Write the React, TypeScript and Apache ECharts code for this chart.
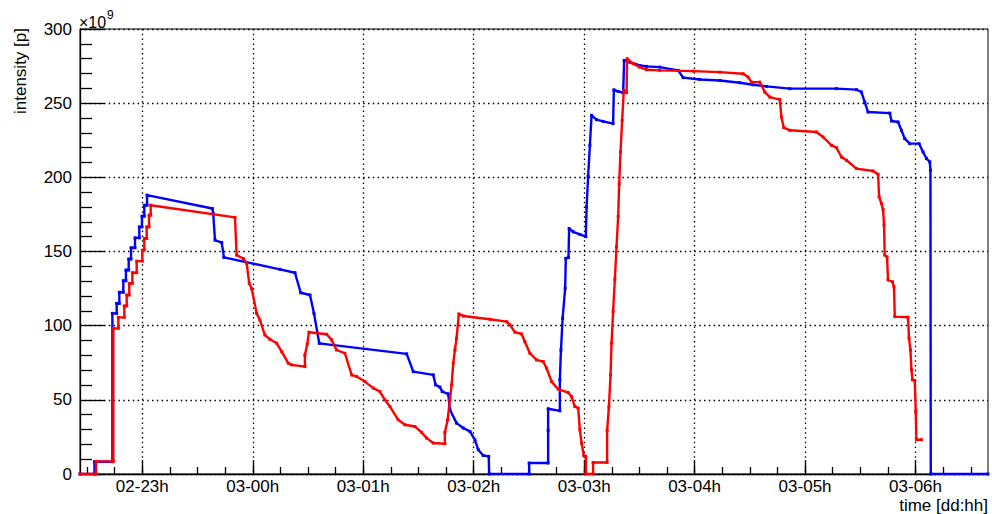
import React, { useEffect, useRef } from 'react';
import * as echarts from 'echarts';

const FONT = "'Liberation Sans', Arial, Helvetica, sans-serif";

// x values: hours relative to 03-00h
const xMin = -1.564;
const xMax = 6.656;
const hourTicks = [-1, 0, 1, 2, 3, 4, 5, 6];
const hourLabels = ['02-23h', '03-00h', '03-01h', '03-02h', '03-03h', '03-04h', '03-05h', '03-06h'];

const blueHours = [
  -1.564, -1.433, -1.433, -1.271, -1.271, -1.232, -1.232, -1.208, -1.208, -1.172, -1.172, -1.148, -1.148,
  -1.123, -1.123, -1.102, -1.102, -1.066, -1.066, -1.027, -1.027, -1.003, -1.003, -0.982, -0.982, -0.957,
  -0.957, -0.366, -0.358, -0.342, -0.281, -0.261, 0.246, 0.382, 0.434, 0.518, 0.554, 0.602, 1.393, 1.453,
  1.634, 1.655, 1.694, 1.715, 1.769, 1.785, 1.845, 1.905, 1.966, 2.011, 2.041, 2.086, 2.136, 2.14, 2.502,
  2.502, 2.674, 2.674, 2.674, 2.78, 2.78, 2.79, 2.805, 2.828, 2.834, 2.858, 2.864, 2.901, 2.961, 3.015,
  3.022, 3.036, 3.052, 3.067, 3.112, 3.172, 3.262, 3.269, 3.308, 3.353, 3.362, 3.414, 3.504, 3.565, 3.685,
  3.851, 3.896, 4.047, 4.228, 4.409, 4.529, 4.651, 4.862, 5.284, 5.465, 5.51, 5.54, 5.57, 5.767, 5.782,
  5.842, 5.872, 5.902, 5.948, 6.032, 6.068, 6.099, 6.129, 6.135, 6.138, 6.656,
];
const blueIntensity = [
  0, 0, 8.3, 8.3, 108.3, 108.3, 115, 115, 122.5, 122.5, 130.3, 130.3, 137.5,
  137.5, 144.9, 144.9, 152.5, 152.5, 159.2, 159.2, 166.6, 166.6, 173.8, 173.8, 181.2, 181.2,
  188, 179, 175.6, 157.7, 156, 146, 138, 135.7, 122.2, 120.7, 108.3, 88.1, 81, 69,
  66.8, 60.1, 58.6, 55.6, 54, 43.3, 34.3, 31, 28.7, 23, 16.4, 12.5, 11.9, 0, 0,
  7.4, 7.4, 29.4, 44, 42.6, 63.5, 83.6, 105, 125.2, 145.4, 146, 165.5, 163.3, 161.5, 160,
  180, 200.7, 221.6, 241.8, 238.9, 237.7, 236.2, 259, 257.9, 257, 278.8, 277.6, 275.4, 274.8, 274.3,
  272.1, 267.2, 266, 265.3, 263.8, 262.4, 261.3, 259.8, 259.8, 259.1, 257.5, 250.7, 244, 243.3, 238,
  237.3, 231.7, 226.1, 222.7, 222.7, 217.1, 212.7, 210.4, 204.8, 0, 0,
];

const redHours = [
  -1.564, -1.419, -1.419, -1.262, -1.262, -1.217, -1.217, -1.163, -1.163, -1.141, -1.141, -1.118, -1.118,
  -1.09, -1.09, -1.051, -1.051, -1.0, -1.0, -0.982, -0.982, -0.96, -0.96, -0.939, -0.939, -0.924, -0.924,
  -0.161, -0.146, -0.086, -0.055, -0.032, -0.01, 0.035, 0.065, 0.11, 0.156, 0.216, 0.262, 0.321, 0.352,
  0.472, 0.472, 0.493, 0.509, 0.669, 0.714, 0.759, 0.834, 0.895, 0.94, 1.015, 1.091, 1.151, 1.196, 1.242,
  1.317, 1.377, 1.468, 1.529, 1.574, 1.634, 1.739, 1.739, 1.764, 1.785, 1.8, 1.815, 1.83, 1.845, 1.866,
  1.905, 2.147, 2.298, 2.328, 2.373, 2.434, 2.463, 2.509, 2.569, 2.629, 2.66, 2.705, 2.765, 2.855, 2.886,
  2.916, 2.946, 2.961, 2.977, 2.997, 3.015, 3.015, 3.081, 3.081, 3.208, 3.208, 3.224, 3.239, 3.248, 3.262,
  3.278, 3.293, 3.308, 3.317, 3.329, 3.344, 3.359, 3.384, 3.389, 3.443, 3.504, 3.565, 3.685, 3.986, 4.228,
  4.439, 4.484, 4.515, 4.59, 4.635, 4.681, 4.771, 4.786, 4.807, 4.862, 5.103, 5.163, 5.239, 5.284, 5.329,
  5.375, 5.465, 5.615, 5.661, 5.67, 5.691, 5.706, 5.715, 5.721, 5.742, 5.751, 5.791, 5.805, 5.812, 5.932,
  5.941, 5.954, 5.963, 5.972, 5.993, 6.002, 6.008, 6.053,
];
const redIntensity = [
  0, 0, 8.5, 8.5, 98.2, 98.2, 105.6, 105.6, 113.3, 113.3, 120.7, 120.7, 128.5,
  128.5, 135.7, 135.7, 143.5, 143.5, 150.9, 150.9, 158.8, 158.8, 166.6, 166.6, 174.5, 174.5, 181.2,
  173, 147.6, 145.3, 142, 128.5, 125, 108.3, 103.8, 93.7, 90.8, 88.2, 82.5, 74.7, 73.6,
  72.4, 80.3, 87.5, 95.6, 94.2, 90.4, 83.6, 81.4, 66.8, 65.7, 62.3, 57.9, 55.6, 50, 45.5,
  36.5, 33.2, 32, 28, 24.2, 20.9, 20.4, 28, 36.5, 50, 60.1, 74.7, 83.6, 91.5, 107.9,
  106.5, 104.3, 102.7, 100.5, 95.6, 94.4, 89.2, 81.4, 76.9, 75.8, 71.3, 62.3, 57.2, 54.9, 52.2,
  45.5, 44.4, 29.8, 20.9, 12.3, 11.8, 0, 0, 7.8, 7.8, 29.4, 45.1, 66.8, 88.2, 109.4,
  131.2, 153.2, 173.8, 195.4, 217.1, 238.4, 258.6, 257.1, 280, 276.6, 274.3, 272.5, 272.1, 271.6, 270.9,
  269.8, 267.6, 264.2, 264.2, 257.5, 254.1, 252.4, 240.6, 233.5, 231.7, 230.6, 227.2, 221.6, 220, 213.7,
  211.5, 205.9, 204.3, 202.1, 186.8, 182.4, 178.3, 167.8, 147.6, 146.4, 130.8, 129.6, 126.2, 106.1, 105.7,
  91.5, 83.6, 70.2, 63.5, 63, 42.1, 23.1, 23.1,
];

function zip(xs: number[], ys: number[]): [number, number][] {
  return xs.map((x, i) => [x, ys[i]]);
}

function quarterTicks(): number[] {
  const out: number[] = [];
  for (let q = Math.ceil(xMin * 4); q <= Math.floor(xMax * 4); q++) out.push(q / 4);
  return out;
}

export default function App() {
  const ref = useRef<HTMLDivElement>(null);
  useEffect(() => {
    if (!ref.current) return;
    const chart = echarts.init(ref.current, null, { renderer: 'svg' });
    const black = '#000000';
    const dotted = { color: black, width: 1.3, type: [1.5, 3.3] as number[] };
    const tickStyle = { color: black, width: 1.3 };
    chart.setOption({
      animation: false,
      backgroundColor: '#ffffff',
      grid: { left: 80, right: 4, top: 29, bottom: 40, show: true, borderColor: black, borderWidth: 1, backgroundColor: 'transparent' },
      xAxis: [
        {
          type: 'value',
          min: xMin,
          max: xMax,
          position: 'bottom',
          axisLine: { show: true, onZero: false, lineStyle: { color: black, width: 1.3 } },
          axisTick: { show: true, inside: true, length: 14, customValues: hourTicks, lineStyle: tickStyle },
          axisLabel: {
            show: true,
            customValues: hourTicks,
            color: black,
            fontSize: 17,
            fontFamily: FONT,
            margin: 4,
            formatter: (v: number) => {
              const i = hourTicks.findIndex((t) => Math.abs(t - v) < 1e-6);
              return i >= 0 ? hourLabels[i] : '';
            },
          },
          splitLine: { show: true, lineStyle: dotted },
        },
        {
          type: 'value',
          min: xMin,
          max: xMax,
          position: 'bottom',
          axisLine: { show: false, onZero: false },
          axisTick: { show: true, inside: true, length: 7, customValues: quarterTicks(), lineStyle: tickStyle },
          axisLabel: { show: false },
          splitLine: { show: false },
        },
      ],
      yAxis: {
        type: 'value',
        min: 0,
        max: 300,
        interval: 50,
        axisLine: { show: true, onZero: false, lineStyle: { color: black, width: 1.3 } },
        axisTick: { show: true, inside: true, length: 24, lineStyle: tickStyle },
        minorTick: { show: true, splitNumber: 5, length: 12, lineStyle: tickStyle },
        axisLabel: { color: black, fontSize: 17, fontFamily: FONT, margin: 8 },
        splitLine: { show: true, lineStyle: dotted },
      },
      graphic: [
        { type: 'text', x: 79, y: 22.7, style: { text: '×10', fontSize: 16, fontFamily: FONT, fill: black, align: 'left', verticalAlign: 'middle' } },
        { type: 'text', x: 107, y: 14.5, style: { text: '9', fontSize: 12, fontFamily: FONT, fill: black, align: 'left', verticalAlign: 'middle' } },
        { type: 'text', x: 20, y: 28, rotation: Math.PI / 2, style: { text: 'intensity [p]', fontSize: 17, fontFamily: FONT, fill: black, align: 'right', verticalAlign: 'middle' } },
        { type: 'text', x: 988, y: 505.5, style: { text: 'time [dd:hh]', fontSize: 17, fontFamily: FONT, fill: black, align: 'right', verticalAlign: 'middle' } },
      ],
      series: [
        {
          name: 'beam 1',
          type: 'line',
          data: zip(blueHours, blueIntensity),
          lineStyle: { color: '#0000ff', width: 2.4 },
          itemStyle: { color: '#0000ff' },
          symbol: 'rect',
          symbolSize: 3,
          showSymbol: true,
          clip: true,
          z: 3,
        },
        {
          name: 'beam 2',
          type: 'line',
          data: zip(redHours, redIntensity),
          lineStyle: { color: '#ff0000', width: 2.4 },
          itemStyle: { color: '#ff0000' },
          symbol: 'rect',
          symbolSize: 3,
          showSymbol: true,
          clip: true,
          z: 4,
        },
      ],
    });
    return () => chart.dispose();
  }, []);
  return <div ref={ref} style={{ position: 'fixed', left: 0, top: 0, width: 992, height: 514, background: '#fff' }} />;
}
